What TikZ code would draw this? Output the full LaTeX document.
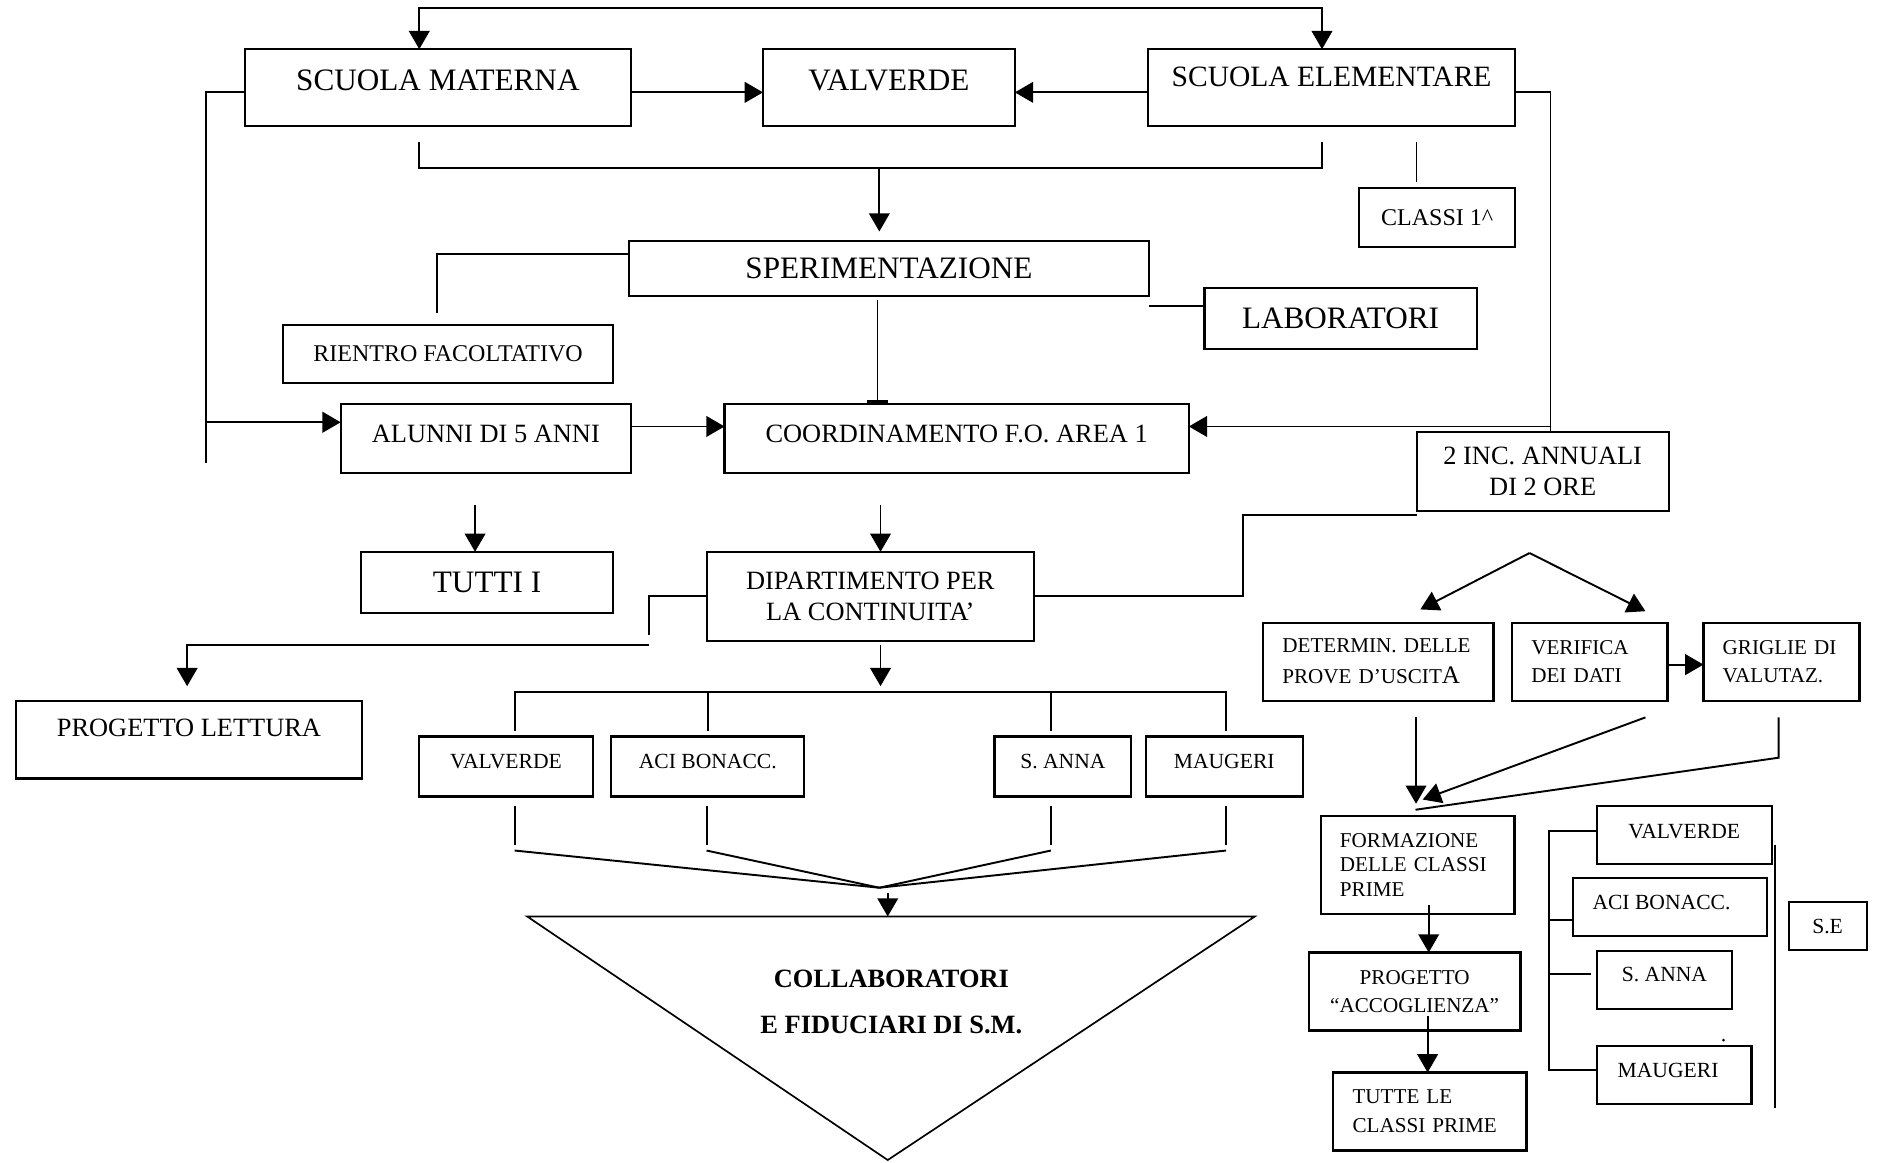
\documentclass[tikz,border=0pt]{standalone}
\usepackage{fontspec}
\setmainfont{Liberation Serif}
\usetikzlibrary{arrows.meta}

\newcommand{\liftby}[2]{\raisebox{#1}[\height][\depth]{#2}}

\begin{document}
\begin{tikzpicture}[x=0.5pt, y=-0.5pt, line width=0.8pt,
    >={Triangle[length=7.6pt,width=8.6pt]},
    box/.style={draw, line width=0.9pt, inner sep=0pt, outer sep=0pt, align=center},
    lbox/.style={box, align=left, inner xsep=8pt},
    dim/.style 2 args={minimum width=#1, minimum height=#2},
    bigtxt/.style={font=\fontsize{13}{15}\selectfont},
    midtxt/.style={font=\fontsize{11}{13}\selectfont},
    smalltxt/.style={font=\fontsize{9}{11}\selectfont}]

\useasboundingbox (0,0) rectangle (1568,969);

% scuole
\node[box, bigtxt, dim={161pt}{32pt}] (sm) at (365,73) {\liftby{3pt}{SCUOLA MATERNA}};
\node[box, bigtxt, dim={105pt}{32pt}] (vt) at (741,73) {\liftby{3pt}{VALVERDE}};
\node[box, font=\fontsize{12.3}{14}\selectfont, dim={153pt}{32pt}] (se) at (1110,73) {\liftby{4.5pt}{SCUOLA ELEMENTARE}};
\node[box, font=\fontsize{10}{12}\selectfont, dim={65pt}{24.5pt}] (cl) at (1198,181.5) {CLASSI 1\textasciicircum};

% sperimentazione
\node[box, bigtxt, dim={217pt}{23pt}] (sp) at (741,224) {SPERIMENTAZIONE};
\node[box, font=\fontsize{10}{12}\selectfont, dim={137.5pt}{24pt}] (ri) at (373.5,295) {RIENTRO FACOLTATIVO};
\node[box, bigtxt, dim={113.5pt}{25.5pt}] (lab) at (1117.5,265.5) {LABORATORI};

% coordinamento
\node[box, midtxt, dim={121pt}{28.5pt}] (al) at (405,365.5) {\liftby{1.75pt}{ALUNNI DI 5 ANNI}};
\node[box, midtxt, dim={193.5pt}{28.5pt}] (co) at (797.5,365.5) {\liftby{1.75pt}{COORDINAMENTO F.O. AREA 1}};
\node[box, midtxt, dim={105pt}{33pt}] (inc) at (1286,393) {2 INC. ANNUALI\\DI 2 ORE};
\node[box, bigtxt, dim={105pt}{25.5pt}] (tu) at (406,485.5) {TUTTI I};
\node[box, midtxt, dim={136.5pt}{37pt}] (dip) at (725.5,497) {DIPARTIMENTO PER\\LA CONTINUITA’};
\node[box, midtxt, dim={144.5pt}{32.5pt}] (pl) at (157.5,616.5) {\liftby{4.75pt}{PROGETTO LETTURA}};

% sedi
\node[box, smalltxt, dim={72.8pt}{25pt}] (mv) at (421.8,639) {\liftby{2pt}{VALVERDE}};
\node[box, smalltxt, dim={80.5pt}{25pt}] (ma) at (590,639) {\liftby{2pt}{ACI BONACC.}};
\node[box, smalltxt, dim={57pt}{25pt}] (ms) at (886,639) {\liftby{2pt}{S. ANNA}};
\node[box, smalltxt, dim={65.5pt}{25pt}] (mm) at (1020.5,639) {\liftby{2pt}{MAUGERI}};

% collaboratori
\draw[line width=0.7pt] (439.5,764) coordinate (tl) -- (1046,764) coordinate (tr)
    -- (740,967) coordinate (tb) -- cycle;
\coordinate (tt) at (740,764);
\coordinate (meet) at (733,740);
\coordinate (bus) at (734,577);
\node[font=\bfseries\fontsize{11}{19}\selectfont, align=center] (col) at (743,835)
    {COLLABORATORI\\E FIDUCIARI DI S.M.};

% prove d'uscita
\coordinate (pk) at (1275,461);
\node[lbox, font=\fontsize{8.8}{13}\selectfont, dim={96pt}{32.5pt}, text width=80pt] (det) at (1149,551.5)
    {DETERMIN. DELLE\\PROVE D’USCIT{\fontsize{10.5}{12}\selectfont A}};
\node[lbox, font=\fontsize{8.8}{12}\selectfont, dim={64.75pt}{32.5pt}, text width=48.75pt] (ver) at (1325.25,551.5)
    {VERIFICA\\DEI DATI};
\node[lbox, font=\fontsize{8.8}{12}\selectfont, dim={65pt}{32.5pt}, text width=49pt] (gri) at (1485,551.5)
    {GRIGLIE DI\\VALUTAZ.};
\node[lbox, font=\fontsize{8.8}{10.2}\selectfont, dim={80.75pt}{41pt}, text width=64.75pt] (fo) at (1181.75,721)
    {FORMAZIONE\\DELLE CLASSI\\PRIME};
\node[box, font=\fontsize{8.8}{11.5}\selectfont, dim={88.25pt}{32.5pt}] (pa) at (1179.25,826.5)
    {PROGETTO\\“ACCOGLIENZA”};
\node[lbox, font=\fontsize{8.8}{12}\selectfont, dim={80.5pt}{32.5pt}, text width=64.5pt] (tc) at (1192,926.5)
    {TUTTE LE\\CLASSI PRIME};

% sedi S.E.
\node[box, smalltxt, dim={73pt}{24pt}] (rv) at (1404,696) {\liftby{1.5pt}{VALVERDE}};
\node[box, smalltxt, dim={81pt}{24.25pt}] (ra) at (1392,756.25) {\liftby{2pt}{ACI BONACC.\hspace*{7pt}}};
\node[box, smalltxt, dim={56.5pt}{24.25pt}] (rs) at (1387.5,816.75) {\liftby{2pt}{S. ANNA}};
\node[box, smalltxt, dim={64.5pt}{24pt}] (rm) at (1395.5,896) {\liftby{2pt}{MAUGERI\hspace*{5pt}}};
\node[box, smalltxt, dim={32.5pt}{20pt}] (sev) at (1523.5,772) {S.E};

% collegamenti in alto
\draw[<->] ([xshift=-7.75pt]sm.north) -- ++(0,-34) -| ([xshift=-4pt]se.north);
\draw[->] ([yshift=-2pt]sm.east) -- ([yshift=-2pt]vt.west);
\draw[->] ([yshift=-2pt]se.west) -- ([yshift=-2pt]vt.east);
\draw ([yshift=-2pt]sm.west) -- ++(-32,0) -- ++(0,309);
\draw[<-] ([yshift=6.75pt]al.west) -- ++(-112,0);
\draw ([yshift=-2pt]se.east) -| ([xshift=3.25pt]inc.north);
\draw[<-] ([yshift=5pt]co.east) -- ++(301.5,0);

\draw ([xshift=-7.75pt,yshift=-6.5pt]sm.south) -- ++(0,22) coordinate (brl)
    -| ([xshift=-4pt,yshift=-6.5pt]se.south);
\draw[->, shorten >=4pt] ([xshift=-4pt]sp.north |- brl) -- ([xshift=-4pt]sp.north);
\draw[line width=0.6pt] ([xshift=-8.5pt,yshift=2.5pt]cl.north) -- ++(0,-34);

% sperimentazione
\draw ([yshift=6pt]sp.west) -| ([xshift=-4.75pt,yshift=5pt]ri.north);
\draw ([yshift=-4pt]sp.south east) -- ([yshift=-4pt]sp.south east -| lab.west);
\draw[-{Rectangle[length=1.6pt,width=8.5pt]}] ([xshift=-4.75pt,yshift=-1.5pt]sp.south)
    -- ([xshift=-4.75pt]sp.south |- co.north);

% coordinamento
\draw[->] ([yshift=5pt]al.east) -- ([yshift=5pt]al.east -| co.west);
\draw[->] ([xshift=-4.5pt,yshift=-13.5pt]al.south) -- ([xshift=-4.5pt]al.south |- tu.north);
\draw[->] ([xshift=4.25pt,yshift=19.5pt]dip.north) -- ([xshift=4.25pt]dip.north);
\draw ([yshift=-1.5pt]inc.south west) -- ++(-145,0) |- (dip.east);

% dipartimento
\draw (dip.west) -- ++(-48,0) -- ++(0,32);
\draw[->, shorten >=6pt] ([xshift=-24pt,yshift=-20.5pt]dip.west) -| ([xshift=-0.75pt]pl.north);
\draw[->, shorten >=2.5pt] ([xshift=4.25pt,yshift=-2pt]dip.south) -- ([xshift=4.25pt]dip.south |- bus);
\draw ([xshift=3.6pt,yshift=2.5pt]mv.north) |- (bus) -| ([xshift=0.75pt,yshift=2.5pt]mm.north);
\draw ([yshift=2.5pt]ma.north) -- (ma.north |- bus);
\draw ([xshift=-5pt,yshift=2.5pt]ms.north) -- ([xshift=-5pt]ms.north |- bus);

\foreach \b/\s in {mv/3.6pt, ma/-0.5pt, ms/-5pt, mm/0.75pt} {
  \draw ([xshift=\s,yshift=-4pt]\b.south) -- ++(0,32);
  \draw ([xshift=\s,yshift=-22.5pt]\b.south) -- (meet);
}
\draw[->] ([xshift=3.5pt,yshift=-2pt]meet) -- (tt);

% prove d'uscita
\draw[->] (pk) -- ([xshift=17.5pt,yshift=5.5pt]det.north);
\draw[->] (pk) -- ([xshift=23.2pt,yshift=4.75pt]ver.north);
\draw[->] ([yshift=-1.25pt]ver.east) -- ([yshift=-1.25pt]gri.west);
\draw[->, shorten >=5pt] ([xshift=15.7pt,yshift=-7pt]det.south) -- ([xshift=15.7pt]det.south |- fo.north);
\draw[->] ([xshift=23.2pt,yshift=-7pt]ver.south) -- ([xshift=2.1pt,yshift=6.75pt]fo.north);
\draw ([xshift=-1.15pt,yshift=-7pt]gri.south) -- ++(0,33.6) -- ([xshift=-0.9pt,yshift=2.5pt]fo.north);
\draw[->] ([xshift=4.6pt,yshift=4pt]fo.south) -- ([xshift=4.6pt]fo.south |- pa.north);
\draw[->] ([xshift=5.4pt,yshift=6pt]pa.south) -- ([xshift=5.4pt]pa.south |- tc.north);

% sedi S.E.
\draw ([yshift=1.5pt]rv.west) -- ++(-40,0) |- ([yshift=2pt]rm.west);
\draw ([yshift=-5.4pt]ra.west) -- ++(-20,0);
\draw ([xshift=-2.5pt,yshift=2.4pt]rs.west) -- ++(-35,0);
\draw ([xshift=1.5pt,yshift=8pt]rv.south east) -- ++(0,220);
\fill ([xshift=20.6pt,yshift=2.5pt]rm.north) circle (0.6pt);

\end{tikzpicture}
\end{document}
